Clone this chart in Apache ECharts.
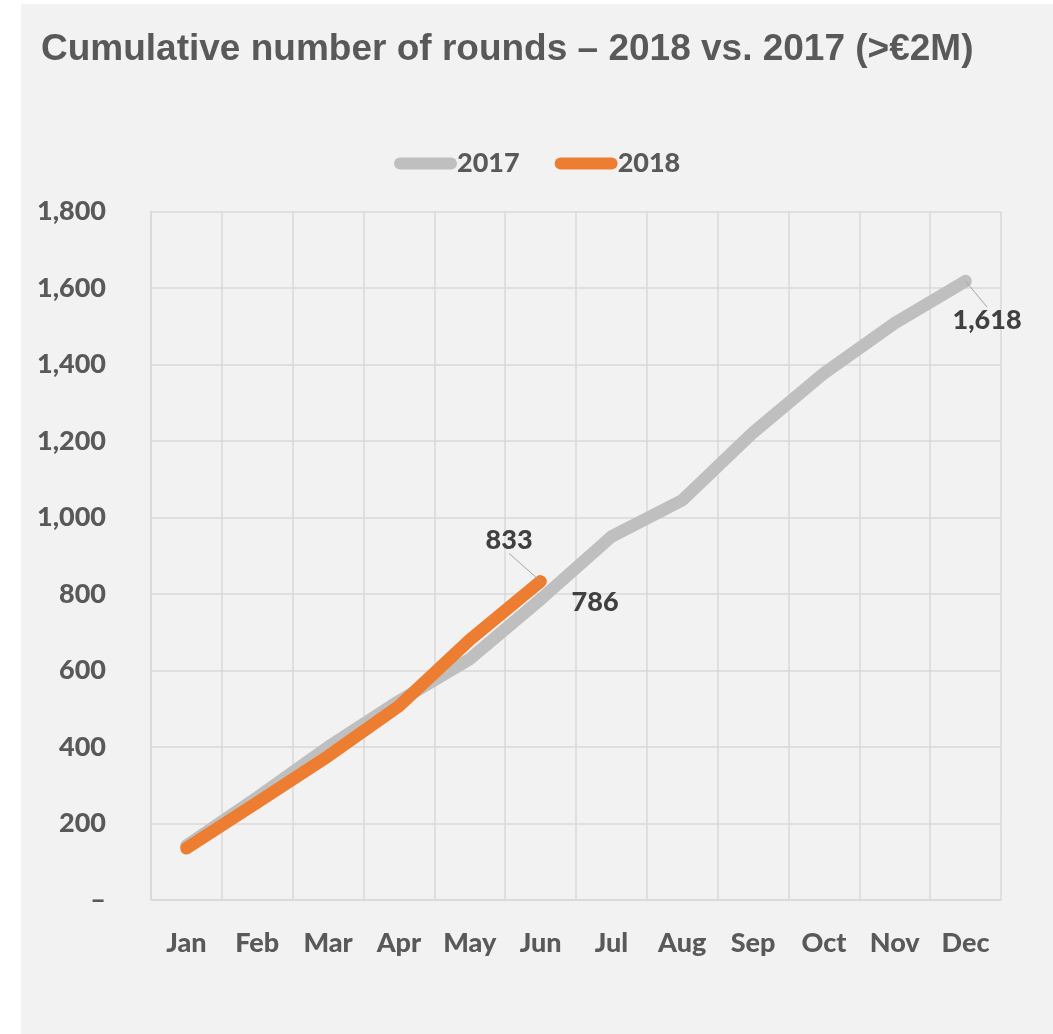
<!DOCTYPE html>
<html>
<head>
<meta charset="utf-8">
<title>Cumulative number of rounds</title>
<script src="https://cdn.jsdelivr.net/npm/echarts@6/dist/echarts.min.js"></script>
<style>
  html, body { margin: 0; padding: 0; background: #ffffff; }
  #chart { position: absolute; left: 21px; top: 4px; width: 1032px; height: 1030px; background: #f2f2f2; }
</style>
</head>
<body>
<div id="chart"></div>
<script>
// Month categories
const months = ['Jan', 'Feb', 'Mar', 'Apr', 'May', 'Jun', 'Jul', 'Aug', 'Sep', 'Oct', 'Nov', 'Dec'];
// Cumulative rounds above €2M
const rounds2017 = [142, 268, 400, 520, 630, 786, 950, 1045, 1222, 1377, 1508, 1618];
const rounds2018 = [135, 255, 376, 507, 680, 833];
// Value axis ticks
const yMin = 0;
const yMax = 1800;
const yStep = 200;

const TEXT = '#595959';
const LABEL = '#404040';
const GRID = '#d9d9d9';
const FONT = 'Lato';
const WEIGHT = 900;

const fmt = v => v === 0 ? '\u2013' : Number(v).toLocaleString('en-US');

// Value label for a single point, with an optional leader line
function pointLabel(value, offset, leader) {
  return {
    value: value,
    symbol: 'circle',
    symbolSize: 1,
    label: {
      show: true,
      position: offset,
      align: 'center',
      verticalAlign: 'middle',
      padding: [10, 4],
      color: LABEL,
      fontFamily: FONT,
      fontWeight: WEIGHT,
      fontSize: 27,
      formatter: p => fmt(p.value)
    },
    labelLine: {
      show: leader,
      length2: 0,
      lineStyle: { color: '#a6a6a6', width: 1 }
    }
  };
}

const data2017 = rounds2017.map((v, i) => {
  if (i === 5) return pointLabel(v, [55, 3.5], false);
  if (i === rounds2017.length - 1) return pointLabel(v, [22, 40], true);
  return v;
});
const data2018 = rounds2018.map((v, i) =>
  i === rounds2018.length - 1 ? pointLabel(v, [-31, -41], true) : v
);

const pill = 'path://M6,0L57,0A6,6,0,0,1,57,12L6,12A6,6,0,0,1,6,0Z';

const chart = echarts.init(document.getElementById('chart'), null, { renderer: 'canvas' });
chart.setOption({
  animation: false,
  backgroundColor: '#f2f2f2',
  title: {
    text: 'Cumulative number of rounds \u2013 2018 vs. 2017 (>\u20ac2M)',
    left: 20,
    top: 27,
    padding: 0,
    textStyle: {
      fontFamily: '"Liberation Sans", Arial, sans-serif',
      fontWeight: 'bold',
      fontSize: 37,
      color: TEXT
    }
  },
  legend: {
    left: 373,
    top: 146,
    padding: 0,
    itemWidth: 63,
    itemHeight: 12,
    itemGap: 35,
    icon: pill,
    textStyle: {
      fontFamily: FONT,
      fontWeight: WEIGHT,
      fontSize: 27,
      color: TEXT,
      padding: [0, 0, 0, -5]
    },
    data: ['2017', '2018']
  },
  grid: {
    left: 130,
    right: 52,
    top: 207.5,
    bottom: 134,
    containLabel: false
  },
  xAxis: {
    type: 'category',
    data: months,
    boundaryGap: true,
    axisLine: { show: true, lineStyle: { color: GRID, width: 1.5 } },
    axisTick: { show: false },
    splitLine: { show: true, lineStyle: { color: GRID, width: 1.5 } },
    axisLabel: {
      margin: 30,
      color: TEXT,
      fontFamily: FONT,
      fontWeight: WEIGHT,
      fontSize: 27,
      interval: 0
    }
  },
  yAxis: {
    type: 'value',
    min: yMin,
    max: yMax,
    interval: yStep,
    axisLine: { show: true, lineStyle: { color: GRID, width: 1.5 } },
    axisTick: { show: false },
    splitLine: { show: true, lineStyle: { color: GRID, width: 1.5 } },
    axisLabel: {
      margin: 45,
      color: TEXT,
      fontFamily: FONT,
      fontWeight: WEIGHT,
      fontSize: 27,
      formatter: fmt
    }
  },
  series: [
    {
      name: '2017',
      type: 'line',
      data: data2017,
      symbol: 'none',
      showSymbol: true,
      color: '#bfbfbf',
      lineStyle: { color: '#bfbfbf', width: 12.5, cap: 'round', join: 'round' },
      z: 2
    },
    {
      name: '2018',
      type: 'line',
      data: data2018,
      symbol: 'none',
      showSymbol: true,
      color: '#ed7d31',
      lineStyle: { color: '#ed7d31', width: 12.5, cap: 'round', join: 'round' },
      z: 3
    }
  ]
});
</script>
</body>
</html>
